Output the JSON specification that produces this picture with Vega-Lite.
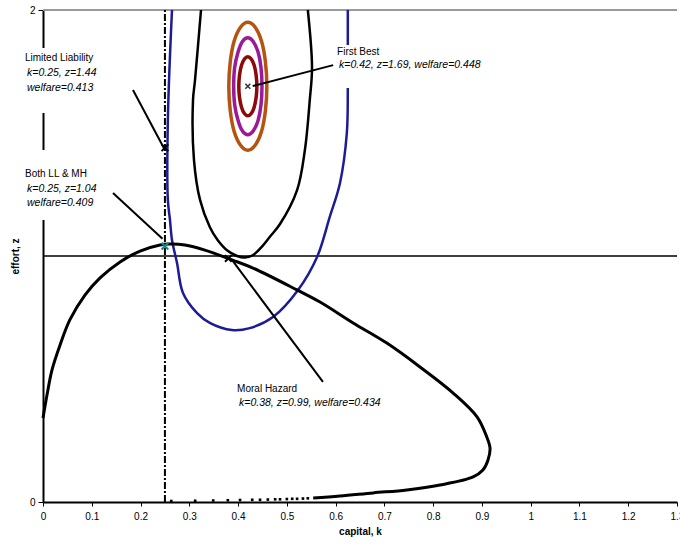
{
  "$schema": "https://vega.github.io/schema/vega-lite/v6.json",
  "width": 634,
  "height": 492,
  "autosize": {"type": "none"},
  "padding": {"left": 43, "top": 10, "right": 3, "bottom": 46},
  "config": {"view": {"stroke": null}, "font": "Liberation Sans"},
  "datasets": {
    "topline": [{"k": 0, "z": 2, "i": 0}, {"k": 1.3, "z": 2, "i": 1}],
    "hline": [{"k": 0, "z": 1, "i": 0}, {"k": 1.3, "z": 1, "i": 1}],
    "vline": [{"k": 0.25, "z": 0, "i": 0}, {"k": 0.25, "z": 2, "i": 1}],
    "blue": [
      {"i": 0, "k": 0.2645, "z": 2.0},
      {"i": 1, "k": 0.256, "z": 1.553},
      {"i": 2, "k": 0.256, "z": 1.228},
      {"i": 3, "k": 0.2604, "z": 1.146},
      {"i": 4, "k": 0.2645, "z": 1.065},
      {"i": 5, "k": 0.2748, "z": 0.9715},
      {"i": 6, "k": 0.287, "z": 0.85},
      {"i": 7, "k": 0.316, "z": 0.768},
      {"i": 8, "k": 0.342, "z": 0.728},
      {"i": 9, "k": 0.3875, "z": 0.699},
      {"i": 10, "k": 0.424, "z": 0.707},
      {"i": 11, "k": 0.4716, "z": 0.752},
      {"i": 12, "k": 0.523, "z": 0.862},
      {"i": 13, "k": 0.562, "z": 0.996},
      {"i": 14, "k": 0.588, "z": 1.159},
      {"i": 15, "k": 0.609, "z": 1.297},
      {"i": 16, "k": 0.623, "z": 1.5},
      {"i": 17, "k": 0.625, "z": 1.683},
      {"i": 18, "k": 0.625, "z": 1.866},
      {"i": 19, "k": 0.625, "z": 2.0}
    ],
    "iso": [
      {"i": 0, "k": 0.324, "z": 2.0},
      {"i": 1, "k": 0.3117, "z": 1.715},
      {"i": 2, "k": 0.3076, "z": 1.634},
      {"i": 3, "k": 0.3096, "z": 1.39},
      {"i": 4, "k": 0.322, "z": 1.228},
      {"i": 5, "k": 0.342, "z": 1.118},
      {"i": 6, "k": 0.358, "z": 1.065},
      {"i": 7, "k": 0.378, "z": 1.022},
      {"i": 8, "k": 0.398, "z": 1.0},
      {"i": 9, "k": 0.414, "z": 0.994},
      {"i": 10, "k": 0.43, "z": 1.003},
      {"i": 11, "k": 0.448, "z": 1.036},
      {"i": 12, "k": 0.466, "z": 1.08},
      {"i": 13, "k": 0.486, "z": 1.13},
      {"i": 14, "k": 0.521, "z": 1.268},
      {"i": 15, "k": 0.537, "z": 1.431},
      {"i": 16, "k": 0.547, "z": 1.634},
      {"i": 17, "k": 0.5516, "z": 1.768},
      {"i": 18, "k": 0.543, "z": 2.0}
    ],
    "hump": [
      {"i": 0, "k": 0, "z": 0.341},
      {"i": 1, "k": 0.0082, "z": 0.435},
      {"i": 2, "k": 0.0185, "z": 0.537},
      {"i": 3, "k": 0.035, "z": 0.638},
      {"i": 4, "k": 0.055, "z": 0.74},
      {"i": 5, "k": 0.086, "z": 0.841},
      {"i": 6, "k": 0.117, "z": 0.911},
      {"i": 7, "k": 0.158, "z": 0.976},
      {"i": 8, "k": 0.199, "z": 1.02},
      {"i": 9, "k": 0.24, "z": 1.045},
      {"i": 10, "k": 0.26, "z": 1.049},
      {"i": 11, "k": 0.291, "z": 1.045},
      {"i": 12, "k": 0.332, "z": 1.024},
      {"i": 13, "k": 0.3875, "z": 0.984},
      {"i": 14, "k": 0.4306, "z": 0.951},
      {"i": 15, "k": 0.521, "z": 0.862},
      {"i": 16, "k": 0.568, "z": 0.813},
      {"i": 17, "k": 0.636, "z": 0.728},
      {"i": 18, "k": 0.705, "z": 0.646},
      {"i": 19, "k": 0.773, "z": 0.549},
      {"i": 20, "k": 0.841, "z": 0.443},
      {"i": 21, "k": 0.89, "z": 0.346},
      {"i": 22, "k": 0.91, "z": 0.264},
      {"i": 23, "k": 0.9166, "z": 0.2195},
      {"i": 24, "k": 0.9125, "z": 0.171},
      {"i": 25, "k": 0.902, "z": 0.13},
      {"i": 26, "k": 0.882, "z": 0.102},
      {"i": 27, "k": 0.814, "z": 0.069},
      {"i": 28, "k": 0.746, "z": 0.049},
      {"i": 29, "k": 0.677, "z": 0.037},
      {"i": 30, "k": 0.609, "z": 0.024},
      {"i": 31, "k": 0.554, "z": 0.016}
    ],
    "humpdots": [
      {"k": 0.263, "z": 0.004},
      {"k": 0.312, "z": 0.005},
      {"k": 0.349, "z": 0.006},
      {"k": 0.379, "z": 0.007},
      {"k": 0.404, "z": 0.008},
      {"k": 0.429, "z": 0.009},
      {"k": 0.445, "z": 0.009},
      {"k": 0.461, "z": 0.01},
      {"k": 0.476, "z": 0.011},
      {"k": 0.486, "z": 0.011},
      {"k": 0.5, "z": 0.012},
      {"k": 0.511, "z": 0.013},
      {"k": 0.521, "z": 0.013},
      {"k": 0.533, "z": 0.014},
      {"k": 0.543, "z": 0.015}
    ],
    "ellipses": [
      {"s": "outer", "i": 0, "k": 0.459, "z": 1.69},
      {"s": "outer", "i": 1, "k": 0.456, "z": 1.79},
      {"s": "outer", "i": 2, "k": 0.448, "z": 1.874},
      {"s": "outer", "i": 3, "k": 0.435, "z": 1.93},
      {"s": "outer", "i": 4, "k": 0.42, "z": 1.95},
      {"s": "outer", "i": 5, "k": 0.405, "z": 1.93},
      {"s": "outer", "i": 6, "k": 0.392, "z": 1.874},
      {"s": "outer", "i": 7, "k": 0.384, "z": 1.79},
      {"s": "outer", "i": 8, "k": 0.381, "z": 1.69},
      {"s": "outer", "i": 9, "k": 0.384, "z": 1.59},
      {"s": "outer", "i": 10, "k": 0.392, "z": 1.506},
      {"s": "outer", "i": 11, "k": 0.405, "z": 1.45},
      {"s": "outer", "i": 12, "k": 0.42, "z": 1.43},
      {"s": "outer", "i": 13, "k": 0.435, "z": 1.45},
      {"s": "outer", "i": 14, "k": 0.448, "z": 1.506},
      {"s": "outer", "i": 15, "k": 0.456, "z": 1.59},
      {"s": "mid", "i": 0, "k": 0.449, "z": 1.69},
      {"s": "mid", "i": 1, "k": 0.447, "z": 1.766},
      {"s": "mid", "i": 2, "k": 0.441, "z": 1.829},
      {"s": "mid", "i": 3, "k": 0.431, "z": 1.872},
      {"s": "mid", "i": 4, "k": 0.42, "z": 1.887},
      {"s": "mid", "i": 5, "k": 0.409, "z": 1.872},
      {"s": "mid", "i": 6, "k": 0.4, "z": 1.829},
      {"s": "mid", "i": 7, "k": 0.393, "z": 1.766},
      {"s": "mid", "i": 8, "k": 0.391, "z": 1.69},
      {"s": "mid", "i": 9, "k": 0.393, "z": 1.615},
      {"s": "mid", "i": 10, "k": 0.4, "z": 1.551},
      {"s": "mid", "i": 11, "k": 0.409, "z": 1.508},
      {"s": "mid", "i": 12, "k": 0.42, "z": 1.493},
      {"s": "mid", "i": 13, "k": 0.431, "z": 1.508},
      {"s": "mid", "i": 14, "k": 0.441, "z": 1.551},
      {"s": "mid", "i": 15, "k": 0.447, "z": 1.615},
      {"s": "inner", "i": 0, "k": 0.4385, "z": 1.69},
      {"s": "inner", "i": 1, "k": 0.437, "z": 1.736},
      {"s": "inner", "i": 2, "k": 0.433, "z": 1.775},
      {"s": "inner", "i": 3, "k": 0.427, "z": 1.801},
      {"s": "inner", "i": 4, "k": 0.42, "z": 1.81},
      {"s": "inner", "i": 5, "k": 0.413, "z": 1.801},
      {"s": "inner", "i": 6, "k": 0.407, "z": 1.775},
      {"s": "inner", "i": 7, "k": 0.403, "z": 1.736},
      {"s": "inner", "i": 8, "k": 0.4015, "z": 1.69},
      {"s": "inner", "i": 9, "k": 0.403, "z": 1.644},
      {"s": "inner", "i": 10, "k": 0.407, "z": 1.605},
      {"s": "inner", "i": 11, "k": 0.413, "z": 1.579},
      {"s": "inner", "i": 12, "k": 0.42, "z": 1.57},
      {"s": "inner", "i": 13, "k": 0.427, "z": 1.579},
      {"s": "inner", "i": 14, "k": 0.433, "z": 1.605},
      {"s": "inner", "i": 15, "k": 0.437, "z": 1.644}
    ],
    "boxes": [
      {"k": -0.043, "k2": 0.12, "z": 1.846, "z2": 1.581},
      {"k": -0.043, "k2": 0.12, "z": 1.431, "z2": 1.146},
      {"k": 0.588, "k2": 0.9, "z": 1.858, "z2": 1.683}
    ],
    "arrows": [
      {"s": "LL", "i": 0, "k": 0.1845, "z": 1.675},
      {"s": "LL", "i": 1, "k": 0.25, "z": 1.431},
      {"s": "BOTH", "i": 0, "k": 0.1435, "z": 1.256},
      {"s": "BOTH", "i": 1, "k": 0.245, "z": 1.07},
      {"s": "FB", "i": 0, "k": 0.595, "z": 1.776},
      {"s": "FB", "i": 1, "k": 0.43, "z": 1.691},
      {"s": "MH", "i": 0, "k": 0.574, "z": 0.488},
      {"s": "MH", "i": 1, "k": 0.3875, "z": 0.984}
    ],
    "titles": [
      {"k": -0.0369, "z": 1.805, "t": "Limited Liability"},
      {"k": -0.0369, "z": 1.333, "t": "Both LL & MH"},
      {"k": 0.603, "z": 1.829, "t": "First Best"},
      {"k": 0.398, "z": 0.459, "t": "Moral Hazard"}
    ],
    "details": [
      {"k": -0.0328, "z": 1.744, "t": "k=0.25, z=1.44"},
      {"k": -0.0328, "z": 1.683, "t": "welfare=0.413"},
      {"k": -0.0328, "z": 1.272, "t": "k=0.25, z=1.04"},
      {"k": -0.0328, "z": 1.215, "t": "welfare=0.409"},
      {"k": 0.607, "z": 1.776, "t": "k=0.42, z=1.69, welfare=0.448"},
      {"k": 0.402, "z": 0.402, "t": "k=0.38, z=0.99, welfare=0.434"}
    ],
    "blackmarkers": [
      {"k": 0.25, "z": 1.44, "c": "LL"},
      {"k": 0.38, "z": 0.99, "c": "MH"}
    ],
    "fbmarker": [
      {"k": 0.42, "z": 1.69, "c": "FB"}
    ],
    "tealmarker": [
      {"k": 0.25, "z": 1.04, "c": "BOTH"}
    ]
  },
  "encoding": {
    "x": {
      "field": "k", "type": "quantitative",
      "scale": {"domain": [0, 1.3], "nice": false, "zero": false},
      "axis": {
        "values": [0, 0.1, 0.2, 0.3, 0.4, 0.5, 0.6, 0.7, 0.8, 0.9, 1, 1.1, 1.2, 1.3],
        "format": ".1~f", "grid": false, "domainColor": "#000", "domainWidth": 2,
        "tickColor": "#000", "tickSize": 4, "labelFontSize": 10, "labelColor": "#000",
        "labelPadding": 5, "labelFlush": false, "labelOverlap": false,
        "title": "capital, k", "titleFontSize": 10, "titleFontWeight": "bold",
        "titleColor": "#000", "titlePadding": 5
      }
    },
    "y": {
      "field": "z", "type": "quantitative",
      "scale": {"domain": [0, 2], "nice": false, "zero": false},
      "axis": {
        "values": [0, 1, 2], "format": "d", "grid": false, "domainColor": "#000",
        "domainWidth": 2, "tickColor": "#000", "tickSize": 5, "labelFontSize": 10,
        "labelColor": "#000", "labelPadding": 3, "labelFlush": false,
        "title": "effort, z", "titleFontSize": 10, "titleFontWeight": "bold",
        "titleColor": "#000", "titlePadding": 9
      }
    }
  },
  "layer": [
    {"data": {"name": "topline"}, "mark": {"type": "line", "color": "#999999", "strokeWidth": 2}, "encoding": {"order": {"field": "i"}}},
    {"data": {"name": "hline"}, "mark": {"type": "line", "color": "#000000", "strokeWidth": 1.3}, "encoding": {"order": {"field": "i"}}},
    {"data": {"name": "vline"}, "mark": {"type": "line", "color": "#000000", "strokeWidth": 2, "strokeDash": [7, 2, 2, 2]}, "encoding": {"order": {"field": "i"}}},
    {"data": {"name": "blue"}, "mark": {"type": "line", "color": "#1c1c96", "strokeWidth": 2.5, "interpolate": "catmull-rom"}, "encoding": {"order": {"field": "i"}}},
    {"data": {"name": "iso"}, "mark": {"type": "line", "color": "#000000", "strokeWidth": 2.5, "interpolate": "catmull-rom"}, "encoding": {"order": {"field": "i"}}},
    {"data": {"name": "hump"}, "mark": {"type": "line", "color": "#000000", "strokeWidth": 3, "interpolate": "catmull-rom"}, "encoding": {"order": {"field": "i"}}},
    {"data": {"name": "humpdots"}, "mark": {"type": "point", "shape": "square", "filled": true, "color": "#000000", "size": 7, "opacity": 1}},
    {
      "data": {"name": "ellipses"},
      "mark": {"type": "line", "strokeWidth": 3.5, "interpolate": "cardinal-closed"},
      "encoding": {
        "order": {"field": "i"},
        "color": {"field": "s", "type": "nominal", "scale": {"domain": ["outer", "mid", "inner"], "range": ["#b4540f", "#9a1a9a", "#8b0a0a"]}, "legend": null}
      }
    },
    {
      "data": {"name": "boxes"},
      "mark": {"type": "rect", "fill": "#ffffff"},
      "encoding": {"x2": {"field": "k2"}, "y2": {"field": "z2"}}
    },
    {"data": {"name": "arrows"}, "mark": {"type": "line", "color": "#000000", "strokeWidth": 2}, "encoding": {"order": {"field": "i"}, "detail": {"field": "s"}}},
    {"data": {"name": "blackmarkers"}, "mark": {"type": "point", "shape": "M-1,-1L1,1M-1,1L1,-1", "filled": false, "strokeWidth": 2, "size": 45, "opacity": 1, "color": "#000000"}},
    {"data": {"name": "fbmarker"}, "mark": {"type": "point", "shape": "M-1,-1L1,1M-1,1L1,-1", "filled": false, "strokeWidth": 1.5, "size": 25, "opacity": 1, "color": "#333333"}},
    {"data": {"name": "tealmarker"}, "mark": {"type": "point", "shape": "M-1,-1L1,1M-1,1L1,-1", "filled": false, "strokeWidth": 2, "size": 45, "opacity": 1, "color": "#0f8a8a"}},
    {
      "data": {"name": "titles"},
      "mark": {"type": "text", "align": "left", "baseline": "middle", "fontSize": 10, "color": "#000000"},
      "encoding": {"text": {"field": "t"}}
    },
    {
      "data": {"name": "details"},
      "mark": {"type": "text", "align": "left", "baseline": "middle", "fontSize": 10.5, "fontStyle": "italic", "color": "#000000"},
      "encoding": {"text": {"field": "t"}}
    }
  ]
}
